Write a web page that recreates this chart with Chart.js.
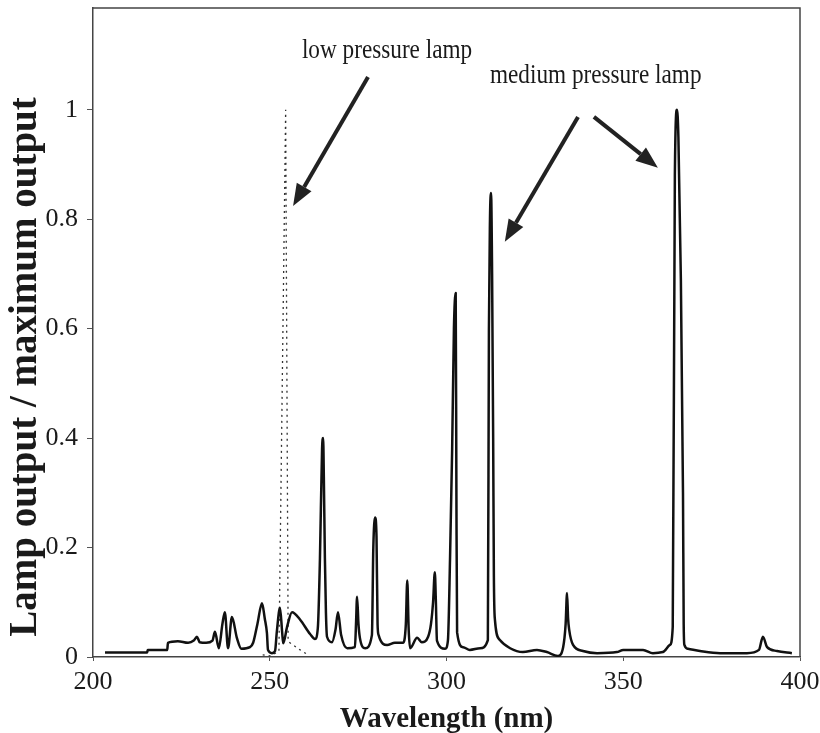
<!DOCTYPE html>
<html>
<head>
<meta charset="utf-8">
<script src="https://cdn.jsdelivr.net/npm/chart.js@4/dist/chart.umd.min.js"></script>
<style>
  html, body { margin: 0; padding: 0; background: #fff; }
  #wrap { width: 820px; height: 733px; }
</style>
</head>
<body>
<div id="wrap"><canvas id="lampChart" width="820" height="733"></canvas></div>
<script>
// medium pressure lamp spectrum (nm / relative output)
var mediumWl = [203.4, 215.3, 215.5, 221.0, 221.2, 224.0, 226.9, 228.5, 229.4, 230.2, 232.0, 233.8, 234.5, 235.6,
  236.6, 237.3, 238.2, 239.3, 240.7, 242.0, 244.4, 245.3, 246.5, 247.8, 248.6, 249.2, 249.5, 250.6, 251.5, 252.0,
  252.9, 253.5, 253.8, 254.9, 256.3, 258.6, 261.4, 262.8, 263.6, 264.2, 264.8, 265.1, 265.3, 265.6, 265.9, 266.2,
  267.6, 268.6, 269.3, 270.2, 271.9, 274.1, 274.4, 274.7, 275.1, 275.5, 277.0, 278.9, 279.3, 279.8, 280.2, 280.5,
  280.8, 283.2, 285.4, 287.7, 288.5, 288.9, 289.3, 289.7, 291.7, 293.0, 294.8, 295.6, 296.2, 296.7, 297.0, 297.3,
  299.6, 300.4, 301.0, 301.6, 302.1, 302.6, 302.8, 303.0, 304.7, 306.6, 309.5, 311.7, 312.0, 312.3, 312.6, 312.9,
  313.2, 313.4, 313.7, 315.1, 318.0, 321.6, 325.6, 328.4, 331.5, 333.0, 333.7, 334.1, 334.4, 334.7, 335.8, 338.6,
  342.6, 348.2, 350.0, 355.6, 358.4, 361.2, 363.2, 364.0, 364.6, 365.2, 365.6, 366.3, 366.9, 367.1, 367.3, 368.3,
  371.7, 377.4, 385.0, 388.4, 389.5, 390.7, 393.5, 397.7];
var mediumOut = [0.008, 0.008, 0.013, 0.013, 0.026, 0.029, 0.026, 0.030, 0.037, 0.027, 0.026, 0.030, 0.046, 0.016,
  0.060, 0.082, 0.016, 0.073, 0.035, 0.015, 0.018, 0.026, 0.060, 0.098, 0.070, 0.044, 0.013, 0.007, 0.011, 0.046,
  0.090, 0.046, 0.025, 0.055, 0.082, 0.068, 0.042, 0.033, 0.053, 0.180, 0.380, 0.400, 0.330, 0.180, 0.080, 0.037,
  0.027, 0.050, 0.082, 0.040, 0.016, 0.018, 0.060, 0.110, 0.060, 0.035, 0.016, 0.040, 0.200, 0.255, 0.220, 0.060,
  0.040, 0.022, 0.026, 0.026, 0.060, 0.140, 0.050, 0.016, 0.035, 0.027, 0.037, 0.060, 0.100, 0.155, 0.100, 0.030,
  0.015, 0.030, 0.180, 0.380, 0.600, 0.665, 0.300, 0.045, 0.018, 0.013, 0.016, 0.031, 0.600, 0.800, 0.848, 0.700,
  0.400, 0.150, 0.068, 0.031, 0.016, 0.009, 0.013, 0.009, 0.002, 0.018, 0.060, 0.117, 0.070, 0.050, 0.022, 0.011,
  0.007, 0.009, 0.013, 0.013, 0.007, 0.009, 0.022, 0.055, 0.880, 1.000, 0.950, 0.690, 0.300, 0.060, 0.022, 0.015,
  0.011, 0.007, 0.007, 0.013, 0.037, 0.018, 0.011, 0.007];

// low pressure lamp (dotted)
var lowWl  = [248.0, 250.0, 252.6, 254.5, 255.2, 255.7, 258.6, 260.8];
var lowOut = [0.004, 0.002, 0.010, 1.000, 0.030, 0.026, 0.013, 0.004];

var xTicks = [200, 250, 300, 350, 400];
var yTicks = [0, 0.2, 0.4, 0.6, 0.8, 1];

// annotation arrows, in data units: [tailX, tailY, tipX, tipY]
var arrows = [
  [277.8, 1.060, 256.6, 0.824],
  [337.2, 0.987, 316.5, 0.759],
  [341.7, 0.987, 359.8, 0.894]
];
var notes = [
  { text: 'low pressure lamp', x: 259.1, y: 1.095 },
  { text: 'medium pressure lamp', x: 312.3, y: 1.049 }
];

function pairs(xs, ys) {
  return xs.map(function (x, i) { return { x: x, y: ys[i] }; });
}

var SERIF = '"Liberation Serif", "Times New Roman", serif';
var INK = '#1a1a1a';

var decorPlugin = {
  id: 'decor',
  afterDraw: function (chart) {
    var ctx = chart.ctx, a = chart.chartArea;
    var sx = chart.scales.x, sy = chart.scales.y;
    ctx.save();

    // top + right frame
    ctx.strokeStyle = '#444';
    ctx.lineWidth = 1.5;
    ctx.beginPath();
    ctx.moveTo(a.left, a.top);
    ctx.lineTo(a.right, a.top);
    ctx.lineTo(a.right, a.bottom);
    ctx.stroke();

    // arrows
    ctx.strokeStyle = '#222';
    ctx.fillStyle = '#222';
    arrows.forEach(function (ar) {
      var x0 = sx.getPixelForValue(ar[0]), y0 = sy.getPixelForValue(ar[1]);
      var x1 = sx.getPixelForValue(ar[2]), y1 = sy.getPixelForValue(ar[3]);
      var ang = Math.atan2(y1 - y0, x1 - x0);
      var hl = 22, hw = 8.5;
      var bx = x1 - hl * Math.cos(ang), by = y1 - hl * Math.sin(ang);
      ctx.lineWidth = 4;
      ctx.beginPath();
      ctx.moveTo(x0, y0);
      ctx.lineTo(bx, by);
      ctx.stroke();
      ctx.beginPath();
      ctx.moveTo(x1, y1);
      ctx.lineTo(bx + hw * Math.sin(ang), by - hw * Math.cos(ang));
      ctx.lineTo(bx - hw * Math.sin(ang), by + hw * Math.cos(ang));
      ctx.closePath();
      ctx.fill();
    });

    // notes
    ctx.fillStyle = INK;
    ctx.font = '27px ' + SERIF;
    ctx.textBaseline = 'alphabetic';
    ctx.textAlign = 'left';
    notes.forEach(function (n) {
      ctx.save();
      ctx.translate(sx.getPixelForValue(n.x), sy.getPixelForValue(n.y));
      ctx.scale(0.86, 1);
      ctx.fillText(n.text, 0, 0);
      ctx.restore();
    });

    // axis titles
    ctx.font = 'bold 29px ' + SERIF;
    ctx.textAlign = 'center';
    ctx.fillText('Wavelength (nm)', (a.left + a.right) / 2, 727);

    ctx.save();
    ctx.translate(36, 367);
    ctx.rotate(-Math.PI / 2);
    ctx.font = 'bold 39px ' + SERIF;
    ctx.fillText('Lamp output / maximum output', 0, 0);
    ctx.restore();

    ctx.restore();
  }
};

new Chart(document.getElementById('lampChart').getContext('2d'), {
  type: 'line',
  data: {
    datasets: [
      { label: 'medium pressure lamp', data: pairs(mediumWl, mediumOut), borderColor: '#111', borderWidth: 2.5,
        pointRadius: 0, fill: false, cubicInterpolationMode: 'monotone', borderJoinStyle: 'round' },
      { label: 'low pressure lamp', data: pairs(lowWl, lowOut), borderColor: '#333', borderWidth: 1.3,
        borderDash: [2, 4], pointRadius: 0, fill: false, tension: 0 }
    ]
  },
  options: {
    responsive: false,
    animation: false,
    layout: { padding: { top: 8, right: 20, left: 0, bottom: 0 } },
    plugins: { legend: { display: false }, tooltip: { enabled: false } },
    scales: {
      x: {
        type: 'linear', min: 200, max: 400,
        afterBuildTicks: function (s) { s.ticks = xTicks.map(function (v) { return { value: v }; }); },
        afterFit: function (s) { s.height = 76; s.paddingLeft = 0; s.paddingRight = 0; },
        ticks: { color: INK, font: { family: SERIF, size: 26 }, padding: 6, maxRotation: 0 },
        grid: { drawOnChartArea: false, drawTicks: true, tickLength: 4, color: '#555' },
        border: { display: true, color: '#444', width: 1.5 }
      },
      y: {
        min: 0, max: 1.186,
        afterBuildTicks: function (s) { s.ticks = yTicks.map(function (v) { return { value: v }; }); },
        afterFit: function (s) { s.width = 93; s.paddingTop = 0; s.paddingBottom = 0; },
        ticks: { color: INK, font: { family: SERIF, size: 26 }, padding: 9,
          callback: function (v) { return String(Math.round(v * 10) / 10); } },
        grid: { drawOnChartArea: false, drawTicks: true, tickLength: 6, color: '#555' },
        border: { display: true, color: '#444', width: 1.5 }
      }
    }
  },
  plugins: [decorPlugin]
});
</script>
</body>
</html>
